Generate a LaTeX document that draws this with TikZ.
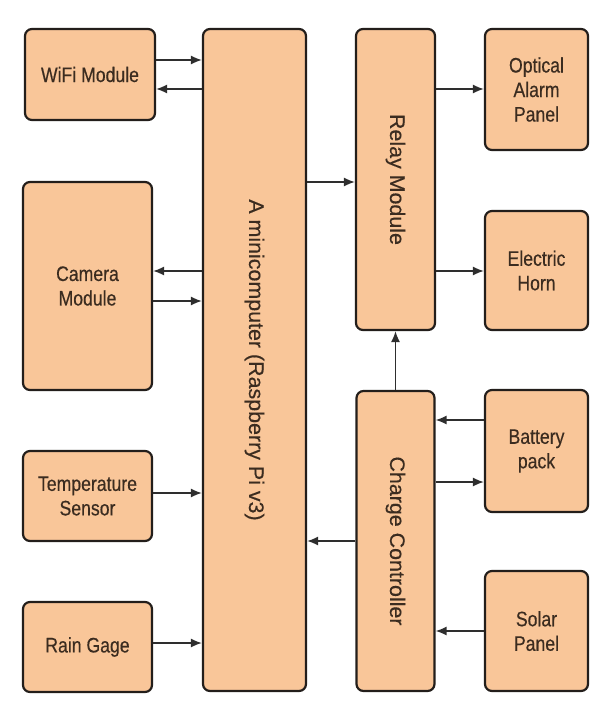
\documentclass[tikz,border=0pt]{standalone}
\usepackage{fontspec}
\setmainfont{Liberation Sans}
\newfontfamily\boxfont[FakeStretch=0.84,FakeBold=0.4]{Liberation Sans}
\newfontfamily\sidefont[FakeStretch=1.02,FakeBold=0.4]{Liberation Sans}
\usetikzlibrary{arrows.meta}
\definecolor{boxfill}{HTML}{F9C699}
\definecolor{boxline}{HTML}{231E1B}
\definecolor{boxtext}{HTML}{3B2C20}
\definecolor{wire}{HTML}{2E2E2E}

\begin{document}
\begin{tikzpicture}[x=1pt, y=-1pt,
  blk/.style={draw=boxline, line width=2.2pt, fill=boxfill, rounded corners=7pt,
    inner sep=0pt, align=center, text=boxtext, font=\boxfont\fontsize{21}{24.5}\selectfont},
  vtxt/.style={rotate=-90, inner sep=0pt, text=boxtext, font=\sidefont\fontsize{21}{24.5}\selectfont},
  arr/.style={draw=wire, line width=1.5pt, -{Latex[length=11pt,width=9pt]}},
]
\useasboundingbox (0,0) rectangle (601,717);

% --- blocks: name / centre x / centre y / width / height / label (pixel units of the sheet)
\foreach \nm/\cx/\cy/\w/\h/\txt in {%
  wifi/90/74.5/130/91/{WiFi Module},
  camera/87.5/286/129/208/{Camera\\Module},
  temp/87.5/496/129/90/{Temperature\\Sensor},
  rain/87.5/647/129/90/{Rain Gage},
  mcu/254.5/360/103/662/{},
  relay/395.5/179.5/79/301/{},
  charge/395.5/541/78/300/{},
  optical/536.5/89.5/103/121/{Optical\\Alarm\\Panel},
  horn/536.5/270.5/103/119/{Electric\\Horn},
  battery/536.5/451/103/122/{Battery\\pack},
  solar/536.5/631/103/120/{Solar\\Panel}%
} {
  \node[blk, minimum width=\w pt, minimum height=\h pt] (\nm) at (\cx,\cy) {\txt};
}

% --- vertical labels of the tall blocks
\node[vtxt] (mcutxt) at (mcu) {A minicomputer (Raspberry Pi v3)};
\node[vtxt] (relaytxt) at (relay) {Relay Module};
\node[vtxt] (chargetxt) at (charge) {Charge Controller};

% --- rightward links: from / to / y
\foreach \a/\b/\yy in {wifi/mcu/60, camera/mcu/301, temp/mcu/493, rain/mcu/643,
                       mcu/relay/182, relay/optical/89, relay/horn/271, charge/battery/482} {
  \draw[arr] (\a.east |- 0,\yy) -- (\b.west |- 0,\yy);
}
% --- leftward links: from / to / y
\foreach \a/\b/\yy in {mcu/wifi/89, mcu/camera/271, charge/mcu/541,
                       battery/charge/420, solar/charge/631} {
  \draw[arr] (\a.west |- 0,\yy) -- (\b.east |- 0,\yy);
}
\draw[arr] (charge.north) -- (relay.south);
\end{tikzpicture}
\end{document}
